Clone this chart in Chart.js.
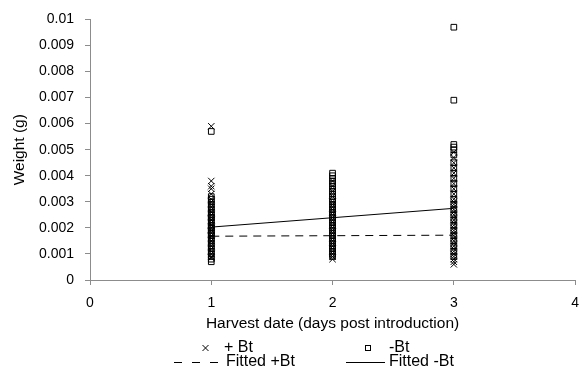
<!DOCTYPE html>
<html>
<head>
<meta charset="utf-8">
<script src="https://cdn.jsdelivr.net/npm/chart.js@4"></script>
<style>
  body { margin: 0; background: #fff; }
  #wrap { width: 579px; height: 368px; position: relative; }
</style>
</head>
<body>
<div id="wrap"><canvas id="chart" width="579" height="368"></canvas></div>
<script>
// ============ DATA ============
const DAYS = [1, 2, 3];

// + Bt weights (g) per harvest day
const btDay1 = [0.0059, 0.0038, 0.0036, 0.0035, 0.0033, 0.0031, 0.0030, 0.0029, 0.0028, 0.0027, 0.0026, 0.0026, 0.0025, 0.0024, 0.0023, 0.0023, 0.0022, 0.0021, 0.0021, 0.0020, 0.0019, 0.0019, 0.0018, 0.0017, 0.0017, 0.0016, 0.0015, 0.0015, 0.0014, 0.0013, 0.0012, 0.0011, 0.0010, 0.0009, 0.00085];
const btDay2 = [0.0038, 0.0036, 0.0034, 0.0032, 0.0030, 0.0029, 0.0028, 0.0027, 0.0026, 0.0025, 0.0024, 0.0023, 0.0022, 0.0021, 0.0020, 0.0019, 0.0018, 0.0017, 0.0016, 0.0015, 0.0014, 0.0013, 0.0012, 0.0011, 0.0010, 0.0009, 0.0008];
const btDay3 = [0.0049, 0.0047, 0.0045, 0.0043, 0.0041, 0.0039, 0.0037, 0.0035, 0.0033, 0.0031, 0.0030, 0.0029, 0.0028, 0.0027, 0.0026, 0.0025, 0.0024, 0.0023, 0.0022, 0.0021, 0.0020, 0.0019, 0.0018, 0.0017, 0.0016, 0.0015, 0.0014, 0.0013, 0.0012, 0.0011, 0.0010, 0.0009, 0.0008, 0.0007, 0.0006];

// -Bt weights (g) per harvest day
const noBtDay1 = [0.0057, 0.0032, 0.0031, 0.0030, 0.0029, 0.0028, 0.0027, 0.0026, 0.0025, 0.0024, 0.0024, 0.0023, 0.0022, 0.0021, 0.0020, 0.0020, 0.0019, 0.0018, 0.0018, 0.0017, 0.0016, 0.0015, 0.0014, 0.0013, 0.0012, 0.0011, 0.0010, 0.0009, 0.0008, 0.0007];
const noBtDay2 = [0.0041, 0.0040, 0.0039, 0.0038, 0.0037, 0.0036, 0.0035, 0.0034, 0.0033, 0.0032, 0.0031, 0.0030, 0.0029, 0.0028, 0.0027, 0.0026, 0.0025, 0.0024, 0.0023, 0.0022, 0.0021, 0.0020, 0.0019, 0.0018, 0.0017, 0.0016, 0.0015, 0.0014, 0.0013, 0.0012, 0.0011, 0.0010, 0.0009];
const noBtDay3 = [0.0097, 0.0069, 0.0052, 0.0051, 0.0050, 0.0048, 0.0045, 0.0043, 0.0041, 0.0039, 0.0037, 0.0035, 0.0033, 0.0031, 0.0029, 0.0027, 0.0025, 0.0023, 0.0021, 0.0019, 0.0017, 0.0015, 0.0013, 0.0011, 0.0009];

// fitted lines, endpoints at day 1 and day 3
const FIT_X = [1, 3];
const fitBt = [0.00168, 0.00172];
const fitNoBt = [0.00203, 0.00275];

const LEGEND_LABELS = ['+ Bt', '-Bt', 'Fitted +Bt', 'Fitted -Bt'];

// ============ HELPERS ============
function toPoints(perDay) {
    const pts = [];
    perDay.forEach((vals, i) => vals.forEach(v => pts.push({ x: DAYS[i], y: v })));
    return pts;
}

const AXIS_GREY = '#8c8c8c';
const FAMILY = 'Liberation Sans, Arial, sans-serif';
const TICK_FONT = { family: FAMILY, size: 14 };
// tall line height pushes x labels down without adding side padding
const X_TICK_FONT = { family: FAMILY, size: 14, lineHeight: 2.57 };
const TITLE_FONT = { family: FAMILY, size: 15.5 };

// Legend drawn by hand: two columns, two rows, like the original
const legendPlugin = {
    id: 'twoColLegend',
    afterDraw(chart) {
        const ctx = chart.ctx;
        ctx.save();
        ctx.font = '16px ' + FAMILY;
        ctx.fillStyle = '#000';
        ctx.strokeStyle = '#000';
        ctx.lineWidth = 1;
        ctx.textBaseline = 'middle';
        ctx.textAlign = 'left';
        const r1 = 348, r2 = 362;

        // + Bt cross
        ctx.beginPath();
        ctx.moveTo(202.5, r1 - 3); ctx.lineTo(208.5, r1 + 3);
        ctx.moveTo(208.5, r1 - 3); ctx.lineTo(202.5, r1 + 3);
        ctx.stroke();
        ctx.fillText(LEGEND_LABELS[0], 224, r1);

        // -Bt square
        ctx.strokeRect(365.5, r1 - 2.5, 5, 5);
        ctx.fillText(LEGEND_LABELS[1], 389, r1);

        // dashed fitted +Bt
        ctx.setLineDash([8, 10]);
        ctx.beginPath();
        ctx.moveTo(174, r2 + 0.5); ctx.lineTo(218, r2 + 0.5);
        ctx.stroke();
        ctx.setLineDash([]);
        ctx.fillText(LEGEND_LABELS[2], 226, r2);

        // solid fitted -Bt
        ctx.beginPath();
        ctx.moveTo(346, r2 + 0.5); ctx.lineTo(385, r2 + 0.5);
        ctx.stroke();
        ctx.fillText(LEGEND_LABELS[3], 389, r2);
        ctx.restore();
    }
};

// ============ CHART ============
new Chart(document.getElementById('chart'), {
    type: 'scatter',
    data: {
        datasets: [
            {
                label: LEGEND_LABELS[0],
                data: toPoints([btDay1, btDay2, btDay3]),
                pointStyle: 'crossRot',
                pointRadius: 4.5,
                borderColor: '#000',
                borderWidth: 1
            },
            {
                label: LEGEND_LABELS[1],
                data: toPoints([noBtDay1, noBtDay2, noBtDay3]),
                pointStyle: 'rect',
                pointRadius: 4,
                backgroundColor: 'rgba(255,255,255,0)',
                borderColor: '#000',
                borderWidth: 1
            },
            {
                label: LEGEND_LABELS[2],
                data: FIT_X.map((x, i) => ({ x: x, y: fitBt[i] })),
                showLine: true,
                pointRadius: 0,
                borderColor: '#000',
                borderWidth: 1,
                borderDash: [8, 6]
            },
            {
                label: LEGEND_LABELS[3],
                data: FIT_X.map((x, i) => ({ x: x, y: fitNoBt[i] })),
                showLine: true,
                pointRadius: 0,
                borderColor: '#000',
                borderWidth: 1
            }
        ]
    },
    options: {
        responsive: false,
        animation: false,
        layout: { autoPadding: false, padding: { top: 19, right: 0, bottom: 35, left: 0 } },
        plugins: {
            legend: { display: false },
            tooltip: { enabled: false }
        },
        scales: {
            x: {
                type: 'linear',
                min: 0,
                max: 4,
                afterFit: s => { s.height = 53; },
                ticks: { stepSize: 1, color: '#000', font: X_TICK_FONT, padding: 0, maxRotation: 0 },
                grid: { drawOnChartArea: false, drawTicks: true, tickLength: 5, color: AXIS_GREY },
                border: { color: AXIS_GREY },
                title: { display: true, text: 'Harvest date (days post introduction)', color: '#000', font: TITLE_FONT, padding: 0 }
            },
            y: {
                min: 0,
                max: 0.01,
                afterFit: s => { s.width = 90; },
                ticks: {
                    stepSize: 0.001,
                    color: '#000',
                    font: TICK_FONT,
                    padding: 11,
                    callback: v => String(+v.toFixed(3))
                },
                grid: { drawOnChartArea: false, drawTicks: true, tickLength: 5, color: AXIS_GREY },
                border: { color: AXIS_GREY },
                title: { display: true, text: 'Weight (g)', color: '#000', font: TITLE_FONT, padding: { top: 10, bottom: 0 } }
            }
        }
    },
    plugins: [legendPlugin]
});
</script>
</body>
</html>
